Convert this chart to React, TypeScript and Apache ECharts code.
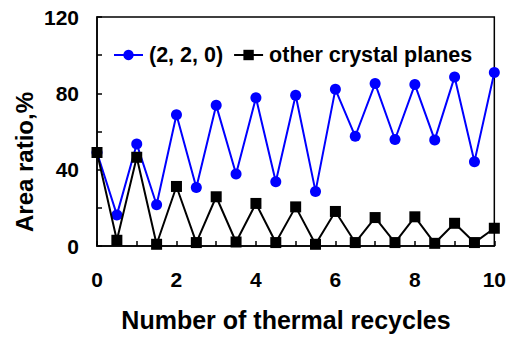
import React, { useEffect, useRef } from "react";
import * as echarts from "echarts";

const cycles = [0, 0.5, 1, 1.5, 2, 2.5, 3, 3.5, 4, 4.5, 5, 5.5, 6, 6.5, 7, 7.5, 8, 8.5, 9, 9.5, 10];
const plane220 = [49, 16.3, 53.5, 21.6, 68.8, 30.7, 73.7, 37.7, 77.7, 33.7, 79, 28.6, 82.1, 57.5, 85.1, 55.8, 84.6, 55.6, 88.6, 44.2, 90.9];
const otherPlanes = [49, 3, 46.5, 0.9, 31.2, 1.8, 25.8, 2.1, 22.3, 1.8, 20.5, 0.9, 18.1, 1.8, 14.9, 1.8, 15.3, 1.4, 11.9, 1.8, 9.3];
const seriesNames = ["(2, 2, 0)", "other crystal planes"];
const xTitle = "Number of thermal recycles";
const yTitle = "Area ratio,%";

const FONT = "'Liberation Sans', Arial, sans-serif";

export default function App() {
  const ref = useRef<HTMLDivElement>(null);
  useEffect(() => {
    if (!ref.current) return;
    const chart = echarts.init(ref.current, null, { renderer: "svg" });
    const pair = (ys: number[]) => cycles.map((x, i) => [x, ys[i]]);
    chart.setOption({
      animation: false,
      backgroundColor: "#ffffff",
      grid: { left: 97, right: 13, top: 17, bottom: 91, show: true, borderColor: "#000", borderWidth: 1.5, backgroundColor: "transparent" },
      legend: {
        left: 113,
        top: 44,
        padding: 0,
        itemWidth: 29,
        itemHeight: 13,
        itemGap: 10,
        textStyle: { fontFamily: FONT, fontWeight: "bold", fontSize: 21.5, color: "#000", padding: [0, 0, 0, 1] },
        data: seriesNames,
      },
      xAxis: {
        type: "value",
        min: 0,
        max: 10,
        interval: 2,
        axisLine: { lineStyle: { color: "#000", width: 1.5 } },
        axisTick: { inside: true, length: 5, lineStyle: { color: "#000", width: 1.5 } },
        minorTick: { show: true, splitNumber: 2, length: 5, lineStyle: { color: "#000", width: 1.5 } },
        splitLine: { show: false },
        axisLabel: { fontFamily: FONT, fontWeight: "bold", fontSize: 21, color: "#000", margin: 23 },
      },
      yAxis: {
        type: "value",
        min: 0,
        max: 120,
        interval: 40,
        axisLine: { lineStyle: { color: "#000", width: 1.5 } },
        axisTick: { inside: true, length: 5, lineStyle: { color: "#000", width: 1.5 } },
        minorTick: { show: true, splitNumber: 2, length: 5, lineStyle: { color: "#000", width: 1.5 } },
        splitLine: { show: false },
        axisLabel: { fontFamily: FONT, fontWeight: "bold", fontSize: 21, color: "#000", margin: 18 },
      },
      graphic: [
        {
          type: "text",
          x: 286,
          y: 320,
          style: { text: xTitle, fontFamily: FONT, fontWeight: "bold", fontSize: 25, fill: "#000", textAlign: "center", textVerticalAlign: "middle" },
        },
        {
          type: "text",
          x: 24,
          y: 162,
          rotation: Math.PI / 2,
          style: { text: yTitle, fontFamily: FONT, fontWeight: "bold", fontSize: 24, fill: "#000", textAlign: "center", textVerticalAlign: "middle" },
        },
      ],
      series: [
        {
          name: seriesNames[0],
          type: "line",
          data: pair(plane220),
          symbol: "circle",
          symbolSize: 11,
          color: "#0000ff",
          lineStyle: { color: "#0000ff", width: 2 },
          itemStyle: { color: "#0000ff" },
          z: 2,
        },
        {
          name: seriesNames[1],
          type: "line",
          data: pair(otherPlanes),
          symbol: "rect",
          symbolSize: 11,
          color: "#000",
          lineStyle: { color: "#000", width: 2 },
          itemStyle: { color: "#000" },
          z: 3,
        },
      ],
    });
    return () => chart.dispose();
  }, []);
  return <div ref={ref} style={{ width: 509, height: 337, position: "absolute", left: 0, top: 0 }} />;
}
